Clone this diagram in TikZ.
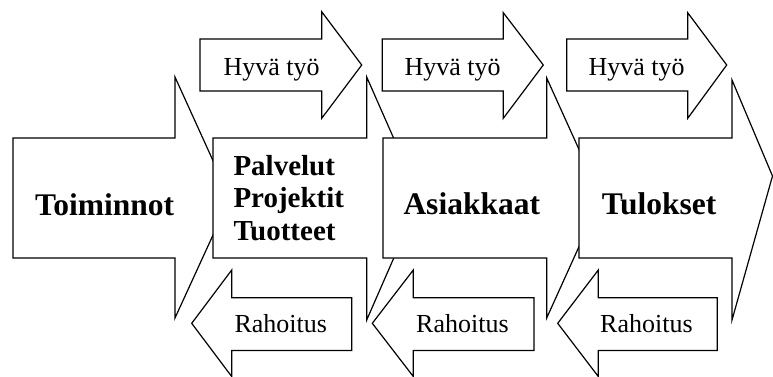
\documentclass[tikz,border=0pt]{standalone}
\usepackage{fontspec}
\setmainfont{Liberation Serif}
\begin{document}
\begin{tikzpicture}[x=1pt,y=-1pt,
  blockarrow/.style={draw=black, fill=white, line width=1.2pt, line join=miter},
  bigtext/.style={anchor=base west, inner sep=0pt, font=\fontsize{31.5}{34}\selectfont\bfseries},
  stacktext/.style={anchor=base west, inner sep=0pt, font=\fontsize{29}{32}\selectfont\bfseries},
  smalltext/.style={anchor=base west, inner sep=0pt, font=\fontsize{26}{30}\selectfont}]
\useasboundingbox (0,0) rectangle (773,376);
\clip (0,0) rectangle (773,376);

% main chain, each stage drawn over the head of the previous one
\draw[blockarrow] (13,138) -- (175,138) -- (175,77) -- (230,198) -- (175,318)
  -- (175,258) -- (13,258) -- cycle;
\draw[blockarrow] (213,138) -- (366.7,138) -- (366.7,77) -- (420,198) -- (366.7,320)
  -- (366.7,258) -- (213,258) -- cycle;
\draw[blockarrow] (383,138) -- (546.7,138) -- (546.7,78) -- (601,198) -- (546.7,318)
  -- (546.7,258) -- (383,258) -- cycle;
\draw[blockarrow] (579,138) -- (732,138) -- (732,80) -- (772.5,176) -- (732,320)
  -- (732,258) -- (579,258) -- cycle;

% forward flow: good work
\draw[blockarrow] (200,39) -- (321.7,39) -- (321.7,11.7) -- (361.7,65) -- (321.7,118.3)
  -- (321.7,91) -- (200,91) -- cycle;
\draw[blockarrow] (382.3,39) -- (503.3,39) -- (503.3,12.7) -- (543.3,65) -- (503.3,118.3)
  -- (503.3,91) -- (382.3,91) -- cycle;
\draw[blockarrow] (566.7,39) -- (687.7,39) -- (687.7,12.7) -- (726.7,65) -- (687.7,118.3)
  -- (687.7,91) -- (566.7,91) -- cycle;

% backward flow: funding
\draw[blockarrow] (351.7,297.7) -- (231.7,297.7) -- (231.7,270) -- (191.7,323.3)
  -- (231.7,376.5) -- (231.7,350.5) -- (351.7,350.5) -- cycle;
\draw[blockarrow] (534,297.7) -- (413.3,297.7) -- (413.3,270) -- (372.3,323.3)
  -- (413.3,376.5) -- (413.3,350.5) -- (534,350.5) -- cycle;
\draw[blockarrow] (717.3,297.7) -- (598.3,297.7) -- (598.3,270) -- (557.7,323.3)
  -- (598.3,376.5) -- (598.3,350.5) -- (717.3,350.5) -- cycle;

% labels
\node[bigtext] (toiminnot) at (35,215) {Toiminnot};
\node[stacktext] (palvelut) at (233.3,175) {Palvelut};
\node[stacktext] (projektit) at (233.3,207) {Projektit};
\node[stacktext] (tuotteet) at (233.3,240) {Tuotteet};
\node[bigtext] (asiakkaat) at (403.3,214.3) {Asiakkaat};
\node[bigtext] (tulokset) at (601.7,214.3) {Tulokset};

\node[smalltext] (hyva1) at (223.3,75) {Hyvä työ};
\node[smalltext] (hyva2) at (404.3,75) {Hyvä työ};
\node[smalltext] (hyva3) at (588.3,75) {Hyvä työ};

\node[smalltext] (raha1) at (234.3,332.7) {Rahoitus};
\node[smalltext] (raha2) at (416,332.7) {Rahoitus};
\node[smalltext] (raha3) at (600,332.7) {Rahoitus};
\end{tikzpicture}
\end{document}
